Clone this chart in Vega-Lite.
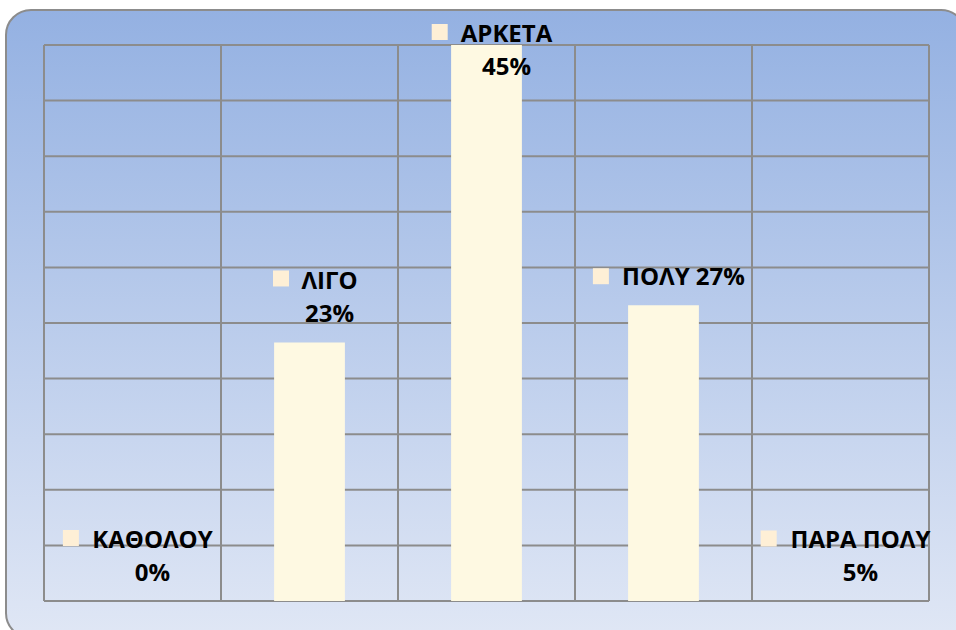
{
  "$schema": "https://vega.github.io/schema/vega-lite/v6.json",
  "width": 956,
  "height": 630,
  "padding": 0,
  "autosize": {"type": "none"},
  "background": "#ffffff",
  "config": {"view": {"stroke": null}},
  "datasets": {
    "answers": [
      {"category": "ΚΑΘΟΛΟΥ", "value": 0, "label": "ΚΑΘΟΛΟΥ\n0%"},
      {"category": "ΛΙΓΟ", "value": 4.65, "label": "ΛΙΓΟ\n23%"},
      {"category": "ΑΡΚΕΤΑ", "value": 10, "label": "ΑΡΚΕΤΑ\n45%"},
      {"category": "ΠΟΛΥ", "value": 5.32, "label": "ΠΟΛΥ 27%"},
      {"category": "ΠΑΡΑ ΠΟΛΥ", "value": 0, "label": "ΠΑΡΑ ΠΟΛΥ\n5%"}
    ],
    "gridLevels": [
      {"level": 0}, {"level": 1}, {"level": 2}, {"level": 3}, {"level": 4}, {"level": 5},
      {"level": 6}, {"level": 7}, {"level": 8}, {"level": 9}, {"level": 10}
    ],
    "frame": [{"part": "chart area"}]
  },
  "resolve": {"scale": {"x": "independent", "y": "independent"}},
  "layer": [
    {
      "data": {"name": "frame"},
      "mark": {
        "type": "rect",
        "clip": true,
        "cornerRadius": 25,
        "stroke": "#8C8C8C",
        "strokeWidth": 2,
        "fill": {
          "gradient": "linear",
          "x1": 0, "y1": 0, "x2": 0, "y2": 1,
          "stops": [
            {"offset": 0, "color": "#94B1E2"},
            {"offset": 1, "color": "#E0E7F5"}
          ]
        }
      },
      "encoding": {
        "x": {"datum": 0, "type": "quantitative", "scale": {"domain": [0, 1], "range": [6, 966]}, "axis": null},
        "x2": {"datum": 1},
        "y": {"datum": 0, "type": "quantitative", "scale": {"domain": [0, 1], "range": [638, 10]}, "axis": null},
        "y2": {"datum": 1}
      }
    },
    {
      "layer": [
        {
          "data": {"name": "gridLevels"},
          "mark": {"type": "rule", "stroke": "#8C8C8C", "strokeWidth": 2},
          "encoding": {
            "y": {"field": "level", "type": "quantitative", "scale": {"domain": [0, 10], "range": [601, 45], "nice": false}, "axis": null},
            "x": {"datum": "ΚΑΘΟΛΟΥ", "type": "nominal", "bandPosition": 0, "scale": {"type": "band", "domain": ["ΚΑΘΟΛΟΥ", "ΛΙΓΟ", "ΑΡΚΕΤΑ", "ΠΟΛΥ", "ΠΑΡΑ ΠΟΛΥ"], "range": [44, 929], "paddingInner": 0, "paddingOuter": 0}, "axis": null},
            "x2": {"datum": "ΠΑΡΑ ΠΟΛΥ", "bandPosition": 1}
          }
        },
        {
          "data": {"name": "answers"},
          "mark": {"type": "rule", "stroke": "#8C8C8C", "strokeWidth": 2},
          "encoding": {
            "x": {"field": "category", "type": "nominal", "bandPosition": 0, "scale": {"type": "band", "domain": ["ΚΑΘΟΛΟΥ", "ΛΙΓΟ", "ΑΡΚΕΤΑ", "ΠΟΛΥ", "ΠΑΡΑ ΠΟΛΥ"], "range": [44, 929], "paddingInner": 0, "paddingOuter": 0}, "axis": null},
            "y": {"datum": 0, "type": "quantitative", "scale": {"domain": [0, 10], "range": [601, 45], "nice": false}, "axis": null},
            "y2": {"datum": 10}
          }
        },
        {
          "data": {"name": "answers"},
          "transform": [{"filter": "datum.category === 'ΠΑΡΑ ΠΟΛΥ'"}],
          "mark": {"type": "rule", "stroke": "#8C8C8C", "strokeWidth": 2},
          "encoding": {
            "x": {"field": "category", "type": "nominal", "bandPosition": 1, "scale": {"type": "band", "domain": ["ΚΑΘΟΛΟΥ", "ΛΙΓΟ", "ΑΡΚΕΤΑ", "ΠΟΛΥ", "ΠΑΡΑ ΠΟΛΥ"], "range": [44, 929], "paddingInner": 0, "paddingOuter": 0}, "axis": null},
            "y": {"datum": 0, "type": "quantitative", "scale": {"domain": [0, 10], "range": [601, 45], "nice": false}, "axis": null},
            "y2": {"datum": 10}
          }
        },
        {
          "data": {"name": "answers"},
          "mark": {"type": "bar", "fill": "#FEF9E2", "width": {"band": 0.4}},
          "encoding": {
            "x": {"field": "category", "type": "nominal", "scale": {"type": "band", "domain": ["ΚΑΘΟΛΟΥ", "ΛΙΓΟ", "ΑΡΚΕΤΑ", "ΠΟΛΥ", "ΠΑΡΑ ΠΟΛΥ"], "range": [44, 929], "paddingInner": 0, "paddingOuter": 0}, "axis": null},
            "y": {"field": "value", "type": "quantitative", "scale": {"domain": [0, 10], "range": [601, 45], "nice": false}, "axis": null}
          }
        },
        {
          "data": {"name": "answers"},
          "transform": [{"filter": "datum.category === 'ΚΑΘΟΛΟΥ' || datum.category === 'ΛΙΓΟ' || datum.category === 'ΠΑΡΑ ΠΟΛΥ'"}],
          "mark": {"type": "text", "font": "Open Sans", "fontWeight": "bold", "fontSize": 24, "color": "#000000", "align": "center", "baseline": "alphabetic", "lineBreak": "\n", "lineHeight": 33, "dx": 20, "dy": -53},
          "encoding": {
            "x": {"field": "category", "type": "nominal", "scale": {"type": "band", "domain": ["ΚΑΘΟΛΟΥ", "ΛΙΓΟ", "ΑΡΚΕΤΑ", "ΠΟΛΥ", "ΠΑΡΑ ΠΟΛΥ"], "range": [44, 929], "paddingInner": 0, "paddingOuter": 0}, "axis": null},
            "y": {"field": "value", "type": "quantitative", "scale": {"domain": [0, 10], "range": [601, 45], "nice": false}, "axis": null},
            "text": {"field": "label"}
          }
        },
        {
          "data": {"name": "answers"},
          "transform": [{"filter": "datum.category === 'ΠΟΛΥ'"}],
          "mark": {"type": "text", "font": "Open Sans", "fontWeight": "bold", "fontSize": 24, "color": "#000000", "align": "center", "baseline": "alphabetic", "lineBreak": "\n", "lineHeight": 33, "dx": 20, "dy": -20},
          "encoding": {
            "x": {"field": "category", "type": "nominal", "scale": {"type": "band", "domain": ["ΚΑΘΟΛΟΥ", "ΛΙΓΟ", "ΑΡΚΕΤΑ", "ΠΟΛΥ", "ΠΑΡΑ ΠΟΛΥ"], "range": [44, 929], "paddingInner": 0, "paddingOuter": 0}, "axis": null},
            "y": {"field": "value", "type": "quantitative", "scale": {"domain": [0, 10], "range": [601, 45], "nice": false}, "axis": null},
            "text": {"field": "label"}
          }
        },
        {
          "data": {"name": "answers"},
          "transform": [{"filter": "datum.category === 'ΑΡΚΕΤΑ'"}],
          "mark": {"type": "text", "font": "Open Sans", "fontWeight": "bold", "fontSize": 24, "color": "#000000", "align": "center", "baseline": "alphabetic", "lineBreak": "\n", "lineHeight": 33, "dx": 20, "dy": -3},
          "encoding": {
            "x": {"field": "category", "type": "nominal", "scale": {"type": "band", "domain": ["ΚΑΘΟΛΟΥ", "ΛΙΓΟ", "ΑΡΚΕΤΑ", "ΠΟΛΥ", "ΠΑΡΑ ΠΟΛΥ"], "range": [44, 929], "paddingInner": 0, "paddingOuter": 0}, "axis": null},
            "y": {"field": "value", "type": "quantitative", "scale": {"domain": [0, 10], "range": [601, 45], "nice": false}, "axis": null},
            "text": {"field": "label"}
          }
        },
        {
          "data": {"name": "answers"},
          "transform": [{"filter": "datum.category === 'ΚΑΘΟΛΟΥ'"}],
          "mark": {"type": "square", "size": 256, "filled": true, "color": "#FEEFD6", "opacity": 1, "xOffset": -61.6, "yOffset": -63},
          "encoding": {
            "x": {"field": "category", "type": "nominal", "scale": {"type": "band", "domain": ["ΚΑΘΟΛΟΥ", "ΛΙΓΟ", "ΑΡΚΕΤΑ", "ΠΟΛΥ", "ΠΑΡΑ ΠΟΛΥ"], "range": [44, 929], "paddingInner": 0, "paddingOuter": 0}, "axis": null},
            "y": {"field": "value", "type": "quantitative", "scale": {"domain": [0, 10], "range": [601, 45], "nice": false}, "axis": null}
          }
        },
        {
          "data": {"name": "answers"},
          "transform": [{"filter": "datum.category === 'ΛΙΓΟ'"}],
          "mark": {"type": "square", "size": 256, "filled": true, "color": "#FEEFD6", "opacity": 1, "xOffset": -28.5, "yOffset": -64},
          "encoding": {
            "x": {"field": "category", "type": "nominal", "scale": {"type": "band", "domain": ["ΚΑΘΟΛΟΥ", "ΛΙΓΟ", "ΑΡΚΕΤΑ", "ΠΟΛΥ", "ΠΑΡΑ ΠΟΛΥ"], "range": [44, 929], "paddingInner": 0, "paddingOuter": 0}, "axis": null},
            "y": {"field": "value", "type": "quantitative", "scale": {"domain": [0, 10], "range": [601, 45], "nice": false}, "axis": null}
          }
        },
        {
          "data": {"name": "answers"},
          "transform": [{"filter": "datum.category === 'ΑΡΚΕΤΑ'"}],
          "mark": {"type": "square", "size": 256, "filled": true, "color": "#FEEFD6", "opacity": 1, "xOffset": -46.8, "yOffset": -13},
          "encoding": {
            "x": {"field": "category", "type": "nominal", "scale": {"type": "band", "domain": ["ΚΑΘΟΛΟΥ", "ΛΙΓΟ", "ΑΡΚΕΤΑ", "ΠΟΛΥ", "ΠΑΡΑ ΠΟΛΥ"], "range": [44, 929], "paddingInner": 0, "paddingOuter": 0}, "axis": null},
            "y": {"field": "value", "type": "quantitative", "scale": {"domain": [0, 10], "range": [601, 45], "nice": false}, "axis": null}
          }
        },
        {
          "data": {"name": "answers"},
          "transform": [{"filter": "datum.category === 'ΠΟΛΥ'"}],
          "mark": {"type": "square", "size": 256, "filled": true, "color": "#FEEFD6", "opacity": 1, "xOffset": -62.6, "yOffset": -29},
          "encoding": {
            "x": {"field": "category", "type": "nominal", "scale": {"type": "band", "domain": ["ΚΑΘΟΛΟΥ", "ΛΙΓΟ", "ΑΡΚΕΤΑ", "ΠΟΛΥ", "ΠΑΡΑ ΠΟΛΥ"], "range": [44, 929], "paddingInner": 0, "paddingOuter": 0}, "axis": null},
            "y": {"field": "value", "type": "quantitative", "scale": {"domain": [0, 10], "range": [601, 45], "nice": false}, "axis": null}
          }
        },
        {
          "data": {"name": "answers"},
          "transform": [{"filter": "datum.category === 'ΠΑΡΑ ΠΟΛΥ'"}],
          "mark": {"type": "square", "size": 256, "filled": true, "color": "#FEEFD6", "opacity": 1, "xOffset": -71.8, "yOffset": -62.5},
          "encoding": {
            "x": {"field": "category", "type": "nominal", "scale": {"type": "band", "domain": ["ΚΑΘΟΛΟΥ", "ΛΙΓΟ", "ΑΡΚΕΤΑ", "ΠΟΛΥ", "ΠΑΡΑ ΠΟΛΥ"], "range": [44, 929], "paddingInner": 0, "paddingOuter": 0}, "axis": null},
            "y": {"field": "value", "type": "quantitative", "scale": {"domain": [0, 10], "range": [601, 45], "nice": false}, "axis": null}
          }
        }
      ]
    }
  ]
}
